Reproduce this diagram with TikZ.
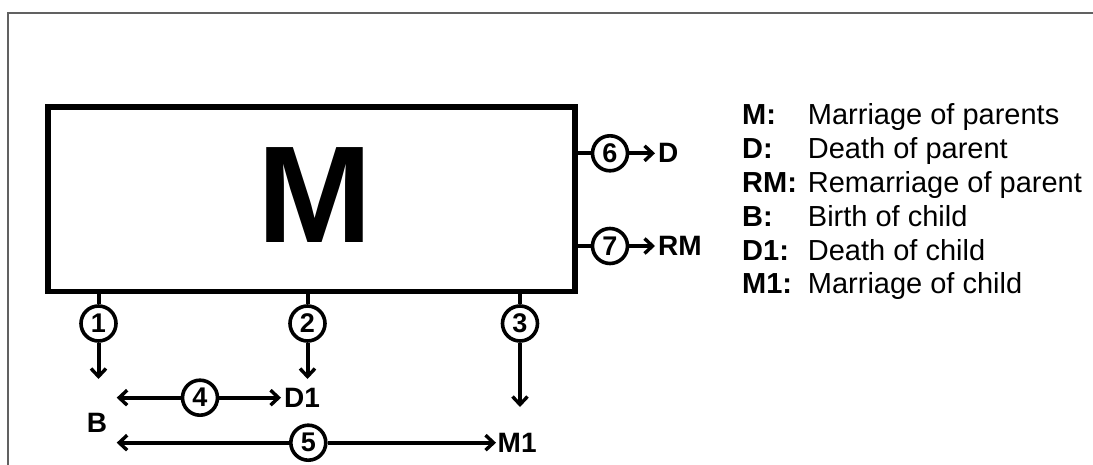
\documentclass[tikz,border=0pt]{standalone}
\usepackage{fontspec}
\setmainfont{Liberation Sans}
\usetikzlibrary{arrows.meta,calc}
\begin{document}
\begin{tikzpicture}[x=1pt,y=-1pt,
  lw/.style={line width=4pt},
  num/.style={circle,draw,line width=3.6pt,minimum size=35pt,inner sep=0pt,
    font=\fontsize{27}{27}\selectfont\bfseries},
  evt/.style={inner ysep=0pt,inner xsep=3pt,font=\fontsize{28}{28}\selectfont\bfseries},
  tip/.style={Straight Barb[length=8pt,width=15pt,line width=3.4pt]},
  arr/.style={lw,-{Straight Barb[length=8pt,width=15pt,line width=3.4pt]}},
  key/.style={anchor=base west,inner sep=0pt,font=\fontsize{29}{29}\selectfont\bfseries},
  desc/.style={anchor=base west,inner sep=0pt,font=\fontsize{29}{29}\selectfont},
  frame/.style={draw=black!62,line width=1.8pt}
]
\useasboundingbox (0,0) rectangle (1093,465);
\draw[frame] (8.3,470) -- (8.3,12.7) -- (1100,12.7);

% main box
\node[draw,line width=5.5pt,minimum width=527pt,minimum height=184.5pt,inner sep=0pt]
  (box) at (311.5,199.25) {};
\node[anchor=base,inner sep=0pt,font=\fontsize{138}{138}\selectfont\bfseries] (Mbig) at (315,243) {M};

% bottom circles
\node[num] (c1) at (98.5,323.5) {1};
\node[num] (c2) at (307.5,323.5) {2};
\node[num] (c3) at (520,323.5) {3};
\draw[lw] (box.south -| c1) -- (c1.north);
\draw[lw] (box.south -| c2) -- (c2.north);
\draw[lw] (box.south -| c3) -- (c3.north);

\coordinate (t1) at (98.5,379);
\coordinate (t2) at (307.5,379);
\coordinate (t3) at (520,407);
\node[evt,anchor=west] (D1) at (281,397.7) {D1};
\node[evt,anchor=west,inner xsep=1.5pt] (M1) at (496,442.7) {M1};
\node[evt] (B) at (97,423) {B};
\draw[arr] (c1.south) -- (t1);
\draw[arr] (c2.south) -- (t2);
\draw[arr] (c3.south) -- (t3);

% rows 4 and 5
\node[num] (c4) at (200,397.7) {4};
\node[num] (c5) at (308.3,442.7) {5};
\coordinate (l4) at (116.7,397.7);
\coordinate (l5) at (116.7,442.7);
\draw[arr] (c4.west) -- (l4);
\draw[arr] (c4.east) -- (D1.west);
\draw[arr] (c5.west) -- (l5);
\draw[arr] (c5.east) -- (M1.west);

% right side
\node[num] (c6) at (610,153.3) {6};
\node[num] (c7) at (610,246) {7};
\draw[lw] (box.east |- c6) -- (c6.west);
\draw[lw] (box.east |- c7) -- (c7.west);
\node[evt,anchor=west] (D) at (655,153.3) {D};
\node[evt,anchor=west] (RM) at (655,246) {RM};
\draw[arr] (c6.east) -- (D.west);
\draw[arr] (c7.east) -- (RM.west);

% legend
\node[key] (k1) at (742,125) {M:};
\node[desc] (d1) at (807.7,125) {Marriage of parents};
\node[key] (k2) at (742,158.8) {D:};
\node[desc] (d2) at (807.7,158.8) {Death of parent};
\node[key] (k3) at (742,192.6) {RM:};
\node[desc] (d3) at (807.7,192.6) {Remarriage of parent};
\node[key] (k4) at (742,226.4) {B:};
\node[desc] (d4) at (807.7,226.4) {Birth of child};
\node[key] (k5) at (742,260.2) {D1:};
\node[desc] (d5) at (807.7,260.2) {Death of child};
\node[key] (k6) at (742,294) {M1:};
\node[desc] (d6) at (807.7,294) {Marriage of child};
\end{tikzpicture}
\end{document}
